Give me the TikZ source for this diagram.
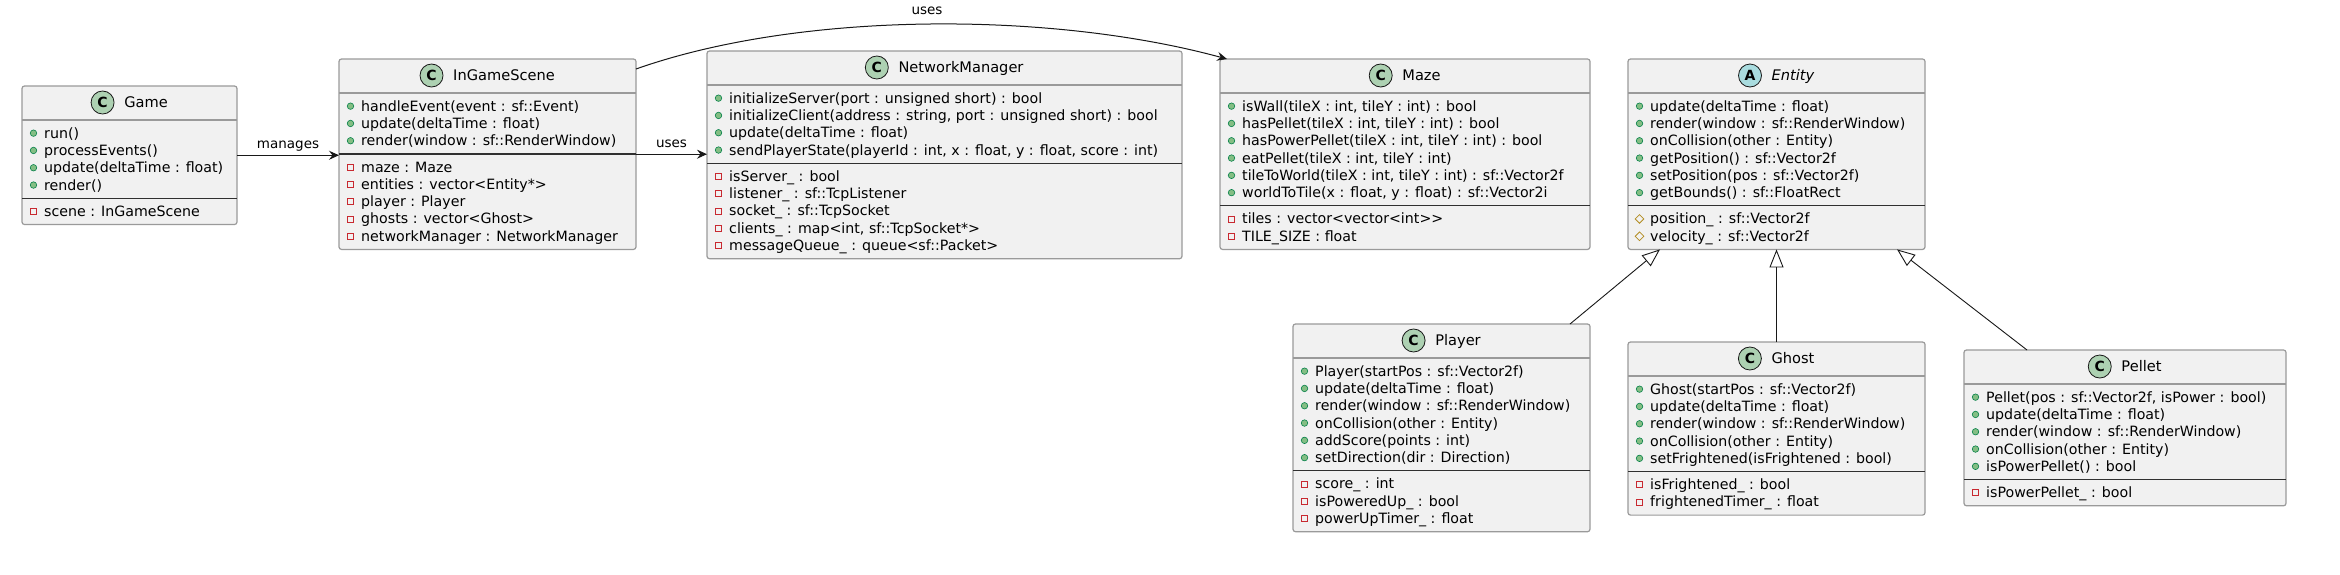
\documentclass[tikz,border=0pt]{standalone}
\usepackage{fontspec}
\setmainfont{DejaVu Sans}
\usetikzlibrary{arrows.meta,calc,shapes.geometric}
\definecolor{boxfill}{HTML}{F1F1F1}
\definecolor{boxborder}{HTML}{9A9A9A}
\definecolor{sepdark}{HTML}{303030}
\definecolor{linec}{HTML}{181818}
\definecolor{cfillC}{HTML}{ADD1B2}
\definecolor{cfillA}{HTML}{A9DCDF}
\definecolor{pubfill}{HTML}{84BE84}
\definecolor{pubdraw}{HTML}{038048}
\definecolor{privdraw}{HTML}{C82930}
\definecolor{protdraw}{HTML}{B38D22}
\tikzset{
  umlbox/.style={draw=boxborder, fill=boxfill, line width=1.2pt, rounded corners=2.5pt,
    inner sep=0pt, outer sep=0pt, anchor=north west},
  hsepline/.style={draw=boxborder, line width=1.2pt},
  bsepline/.style={draw=sepdark, line width=1.3pt},
  titletext/.style={anchor=base, inner sep=0pt, font=\fontsize{14.6}{18}\selectfont},
  iconcirc/.style={circle, draw=linec, line width=0.8pt, minimum size=23pt, inner sep=0pt,
    font=\fontsize{14}{16}\selectfont\bfseries},
  circC/.style={iconcirc, fill=cfillC},
  circA/.style={iconcirc, fill=cfillA},
  mtext/.style={anchor=base west, inner sep=0pt, font=\fontsize{14.2}{18}\selectfont},
  pubicon/.style={circle, fill=pubfill, draw=pubdraw, line width=0.6pt, minimum size=6.5pt, inner sep=0pt},
  privicon/.style={rectangle, draw=privdraw, line width=0.8pt, minimum size=6pt, inner sep=0pt},
  proticon/.style={diamond, aspect=1, draw=protdraw, line width=0.8pt, minimum size=9pt, inner sep=0pt},
  conn/.style={draw=linec, line width=1pt, -{Stealth[length=10pt, width=9pt, inset=3.5pt]}},
  inh/.style={draw=linec, line width=0.9pt, -{Triangle[length=18pt, width=14pt, fill=white]}},
  lab/.style={inner sep=0pt, font=\fontsize{13.5}{16}\selectfont},
}
\newcommand\umlclass[8]{%
  \pgfmathsetmacro\cL{#2}%
  \pgfmathsetmacro\cT{#3}%
  \pgfmathsetmacro\cW{#4}%
  \pgfmathsetmacro\cHS{#3+34}%
  \pgfmathsetmacro\cSA{\cHS+#5*17.3+9}%
  \pgfmathsetmacro\cB{\cSA+#6*17.3+9}%
  \pgfmathsetmacro\cH{\cB-#3}%
  \pgfmathsetmacro\cM{\cHS+13.15}%
  \pgfmathsetmacro\cF{\cSA+13.15}%
  \node[umlbox, minimum width=\cW pt, minimum height=\cH pt] (#1) at (\cL,\cT) {};
  \draw[hsepline] ($(#1.north west)+(0,34)$) -- ($(#1.north east)+(0,34)$);
  \draw[bsepline] (\cL,\cSA) -- (\cL+\cW,\cSA);
  \node[titletext] (#1-t) at (\cL+\cW/2+16.5, \cT+21.5) {#8};
  \node[circ#7] (#1-c) at ($(#1-t.base west)+(-21.5,-5)$) {#7};
}
\newcommand\pubm[3]{%
  \node[pubicon] (#1-m#2-i) at (\cL+11.5, \cM+#2*17.3) {};
  \node[mtext] (#1-m#2) at (\cL+22, \cM+#2*17.3+5) {#3};
}
\newcommand\privf[3]{%
  \node[privicon] (#1-f#2-i) at (\cL+11.5, \cF+#2*17.3) {};
  \node[mtext] (#1-f#2) at (\cL+22, \cF+#2*17.3+5) {#3};
}
\newcommand\protf[3]{%
  \node[proticon] (#1-f#2-i) at (\cL+11.5, \cF+#2*17.3) {};
  \node[mtext] (#1-f#2) at (\cL+22, \cF+#2*17.3+5) {#3};
}
\begin{document}
\begin{tikzpicture}[x=1pt, y=-1pt]
\fill[white] (0,0) rectangle (2340,574);
\useasboundingbox (0,0) rectangle (2340,574);

% Game
\umlclass{game}{22}{86}{215}{4}{1}{C}{Game}
\pubm{game}{0}{run()}
\pubm{game}{1}{processEvents()}
\pubm{game}{2}{update(deltaTime : float)}
\pubm{game}{3}{render()}
\privf{game}{0}{scene : InGameScene}

% InGameScene
\umlclass{ingame}{339}{59}{297}{3}{5}{C}{InGameScene}
\pubm{ingame}{0}{handleEvent(event : sf::Event)}
\pubm{ingame}{1}{update(deltaTime : float)}
\pubm{ingame}{2}{render(window : sf::RenderWindow)}
\privf{ingame}{0}{maze : Maze}
\privf{ingame}{1}{entities : vector<Entity*>}
\privf{ingame}{2}{player : Player}
\privf{ingame}{3}{ghosts : vector<Ghost>}
\privf{ingame}{4}{networkManager : NetworkManager}

% NetworkManager
\umlclass{nm}{707}{51}{475}{4}{5}{C}{NetworkManager}
\pubm{nm}{0}{initializeServer(port : unsigned short) : bool}
\pubm{nm}{1}{initializeClient(address : string, port : unsigned short) : bool}
\pubm{nm}{2}{update(deltaTime : float)}
\pubm{nm}{3}{sendPlayerState(playerId : int, x : float, y : float, score : int)}
\privf{nm}{0}{isServer\_ : bool}
\privf{nm}{1}{listener\_ : sf::TcpListener}
\privf{nm}{2}{socket\_ : sf::TcpSocket}
\privf{nm}{3}{clients\_ : map<int, sf::TcpSocket*>}
\privf{nm}{4}{messageQueue\_ : queue<sf::Packet>}

% Maze
\umlclass{maze}{1220}{59}{370}{6}{2}{C}{Maze}
\pubm{maze}{0}{isWall(tileX : int, tileY : int) : bool}
\pubm{maze}{1}{hasPellet(tileX : int, tileY : int) : bool}
\pubm{maze}{2}{hasPowerPellet(tileX : int, tileY : int) : bool}
\pubm{maze}{3}{eatPellet(tileX : int, tileY : int)}
\pubm{maze}{4}{tileToWorld(tileX : int, tileY : int) : sf::Vector2f}
\pubm{maze}{5}{worldToTile(x : float, y : float) : sf::Vector2i}
\privf{maze}{0}{tiles : vector<vector<int>{}>}
\privf{maze}{1}{TILE\_SIZE : float}

% Entity
\umlclass{entity}{1628}{59}{297}{6}{2}{A}{\itshape Entity}
\pubm{entity}{0}{update(deltaTime : float)}
\pubm{entity}{1}{render(window : sf::RenderWindow)}
\pubm{entity}{2}{onCollision(other : Entity)}
\pubm{entity}{3}{getPosition() : sf::Vector2f}
\pubm{entity}{4}{setPosition(pos : sf::Vector2f)}
\pubm{entity}{5}{getBounds() : sf::FloatRect}
\protf{entity}{0}{position\_ : sf::Vector2f}
\protf{entity}{1}{velocity\_ : sf::Vector2f}

% Player
\umlclass{player}{1293}{324}{297}{6}{3}{C}{Player}
\pubm{player}{0}{Player(startPos : sf::Vector2f)}
\pubm{player}{1}{update(deltaTime : float)}
\pubm{player}{2}{render(window : sf::RenderWindow)}
\pubm{player}{3}{onCollision(other : Entity)}
\pubm{player}{4}{addScore(points : int)}
\pubm{player}{5}{setDirection(dir : Direction)}
\privf{player}{0}{score\_ : int}
\privf{player}{1}{isPoweredUp\_ : bool}
\privf{player}{2}{powerUpTimer\_ : float}

% Ghost
\umlclass{ghost}{1628}{342}{297}{5}{2}{C}{Ghost}
\pubm{ghost}{0}{Ghost(startPos : sf::Vector2f)}
\pubm{ghost}{1}{update(deltaTime : float)}
\pubm{ghost}{2}{render(window : sf::RenderWindow)}
\pubm{ghost}{3}{onCollision(other : Entity)}
\pubm{ghost}{4}{setFrightened(isFrightened : bool)}
\privf{ghost}{0}{isFrightened\_ : bool}
\privf{ghost}{1}{frightenedTimer\_ : float}

% Pellet
\umlclass{pellet}{1964}{350}{322}{5}{1}{C}{Pellet}
\pubm{pellet}{0}{Pellet(pos : sf::Vector2f, isPower : bool)}
\pubm{pellet}{1}{update(deltaTime : float)}
\pubm{pellet}{2}{render(window : sf::RenderWindow)}
\pubm{pellet}{3}{onCollision(other : Entity)}
\pubm{pellet}{4}{isPowerPellet() : bool}
\privf{pellet}{0}{isPowerPellet\_ : bool}

% connectors
\draw[conn] (game.east) -- (game.east -| ingame.west)
  node[lab, midway, anchor=base, yshift=7pt] (lmanages) {manages};
\draw[conn] (ingame.east) -- (ingame.east -| nm.west)
  node[lab, midway, anchor=base, yshift=7pt] (luses1) {uses};
\coordinate (cstart) at ($(ingame.north east)+(0,10)$);
\coordinate (cend) at ($(maze.north west)+(7,0)$);
\draw[conn] (cstart) .. controls (800,11) and (1051,11) .. (cend)
  node[lab, pos=0.5, anchor=base, yshift=10pt] (luses2) {uses};

\draw[inh] ($(player.north west)+(277,0)$) -- ($(entity.south west)+(32,0)$);
\draw[inh] (ghost.north) -- (entity.south);
\draw[inh] ($(pellet.north west)+(63,0)$) -- ($(entity.south west)+(269,0)$);
\end{tikzpicture}
\end{document}
